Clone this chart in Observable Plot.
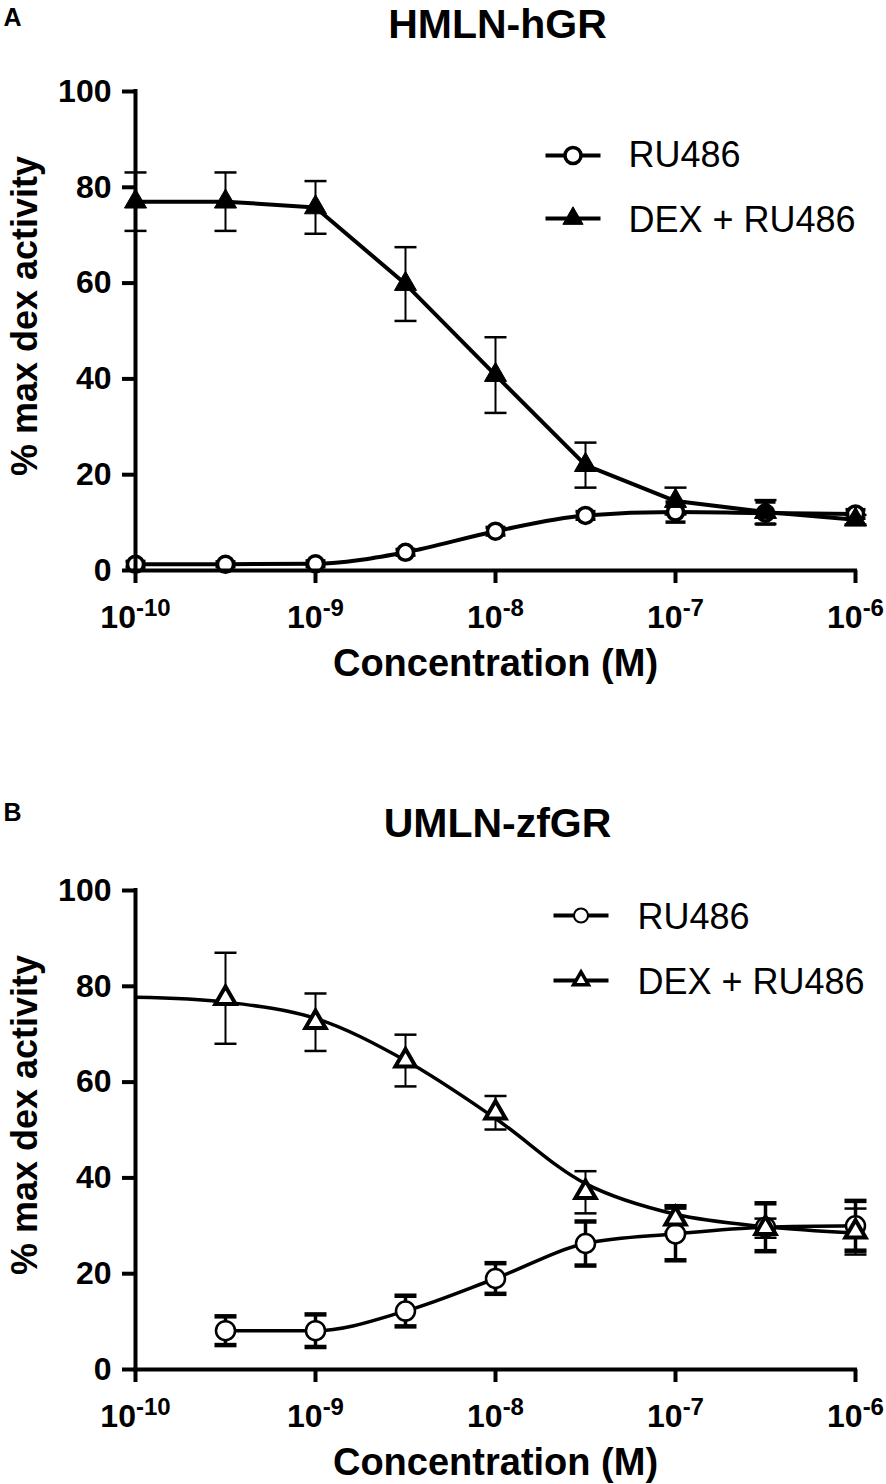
<!DOCTYPE html>
<html>
<head>
<meta charset="utf-8">
<script src="https://cdn.jsdelivr.net/npm/d3@7"></script>
<script src="https://cdn.jsdelivr.net/npm/@observablehq/plot@0.6"></script>
<style>
  html, body { margin: 0; padding: 0; background: #fff; }
  #chart svg { display: block; }
</style>
</head>
<body>
<div id="chart"></div>
<script>
// ---------- data ----------
const conc = [1e-10, 3.162e-10, 1e-9, 3.162e-9, 1e-8, 3.162e-8, 1e-7, 3.162e-7, 1e-6];
const xTicks = [1e-10, 1e-9, 1e-8, 1e-7, 1e-6];
const xTickExps = ["-10", "-9", "-8", "-7", "-6"];
const yTicks = [0, 20, 40, 60, 80, 100];

// Panel A: HMLN-hGR
const dexA    = [77.0, 77.0, 75.8, 59.8, 40.8, 22.0, 14.5, 12.2, 10.6];
const dexAErr = [6.1, 6.1, 5.5, 7.7, 7.9, 4.7, 2.8, 2.5, 1.0];
const ruA     = [1.3, 1.3, 1.4, 3.8, 8.2, 11.5, 12.2, 12.0, 11.8];
const ruAErr  = [0.6, 0.5, 0.6, 0.6, 0.8, 0.8, 2.1, 2.3, 0.9];

// Panel B: UMLN-zfGR (measured from 10^-9.5)
const concB   = [3.162e-10, 1e-9, 3.162e-9, 1e-8, 3.162e-8, 1e-7, 3.162e-7, 1e-6];
const dexB    = [77.5, 72.5, 64.5, 53.6, 37.0, 31.5, 29.5, 28.8];
const dexBErr = [9.5, 6.0, 5.4, 3.5, 4.4, 2.8, 2.0, 4.8];
const ruB     = [8.1, 8.1, 12.2, 19.0, 26.3, 28.3, 29.7, 30.0];
const ruBErr  = [3.0, 3.4, 3.2, 3.2, 4.6, 5.5, 5.0, 5.2];
// fitted DEX curve in panel B
const dexBFit = [77.7, 76.7, 73.3, 64.5, 52.4, 38.8, 32.4, 29.8, 28.5];

// ---------- helpers ----------
const FONT = "'Liberation Sans', Arial, Helvetica, sans-serif";
const hline = {
  draw(ctx, size) {
    const w = Math.sqrt(size / Math.PI);
    ctx.moveTo(-w, 0);
    ctx.lineTo(w, 0);
  }
};

function errorMarks(rows, key, errKey, o) {
  return [
    Plot.ruleX(rows, {x: "c", y1: d => d[key] - d[errKey], y2: d => d[key] + d[errKey], stroke: "black", strokeWidth: o.sw}),
    Plot.dot(rows, {x: "c", y: d => d[key] - d[errKey], symbol: hline, r: o.cap, stroke: "black", strokeWidth: o.capW}),
    Plot.dot(rows, {x: "c", y: d => d[key] + d[errKey], symbol: hline, r: o.cap, stroke: "black", strokeWidth: o.capW})
  ];
}

function panel({height, letter, letterDy, title, titleDy, marks, legend}) {
  const svg = Plot.plot({
    width: 886,
    height,
    marginLeft: 135,
    marginRight: 31,
    marginTop: 91,
    marginBottom: height - 570,
    style: {fontFamily: FONT, background: "white", color: "black", overflow: "visible"},
    x: {type: "log", domain: [1e-10, 1e-6]},
    y: {domain: [0, 100]},
    marks: [
      ...marks,
      // axes
      Plot.ruleY([0], {stroke: "black", strokeWidth: 4, strokeLinecap: "square"}),
      Plot.ruleX([1e-10], {stroke: "black", strokeWidth: 4, strokeLinecap: "square"}),
      Plot.axisY({ticks: yTicks, tickSize: 13, tickPadding: 11, strokeWidth: 4, label: null,
        fontSize: 32, fontWeight: "bold", fontFamily: FONT, fill: "black"}),
      Plot.axisX({ticks: xTicks, tickSize: 13, tickPadding: 22, strokeWidth: 4, label: null,
        tickFormat: d => { const i = xTicks.indexOf(d); return i >= 0 ? xTickExps[i] : String(Math.round(Math.log10(d))); },
        fontSize: 32, fontWeight: "bold", fontFamily: FONT, fill: "black"}),
      // axis titles
      Plot.text(["Concentration (M)"], {text: d => d, frameAnchor: "bottom", dy: 105, lineAnchor: "bottom",
        fontSize: 38, fontWeight: "bold", fontFamily: FONT, fill: "black"}),
      Plot.text(["% max dex activity"], {text: d => d, frameAnchor: "left", dx: -99, dy: -15, rotate: -90,
        lineAnchor: "bottom", textAnchor: "middle", fontSize: 36, fontWeight: "bold", fontFamily: FONT, fill: "black"}),
      // panel title & letter
      Plot.text([title], {text: d => d, frameAnchor: "top", dx: 2, dy: titleDy, lineAnchor: "bottom",
        fontSize: 41, fontWeight: "bold", fontFamily: FONT, fill: "black"}),
      Plot.text([letter], {text: d => d, frameAnchor: "top-left", dx: -132, dy: letterDy, lineAnchor: "bottom",
        textAnchor: "start", fontSize: 25, fontWeight: "bold", fontFamily: FONT, fill: "black"}),
      ...legend
    ]
  });
  // superscript exponents on x tick labels
  svg.querySelectorAll('g[aria-label="x-axis tick label"] text').forEach(t => {
    const exp = t.textContent;
    t.textContent = "";
    const ns = "http://www.w3.org/2000/svg";
    const base = document.createElementNS(ns, "tspan");
    base.textContent = "10";
    const sup = document.createElementNS(ns, "tspan");
    sup.textContent = exp;
    sup.setAttribute("font-size", "24");
    sup.setAttribute("dy", "-12");
    t.appendChild(base);
    t.appendChild(sup);
  });
  return svg;
}

function legendMarks({lx, ly1, ly2, tx, ty1, ty2, circle, tri, lineW, fs}) {
  return [
    Plot.dot([0], {frameAnchor: "top-left", dx: lx, dy: ly1, symbol: hline, r: 27.5, stroke: "black", strokeWidth: lineW}),
    Plot.dot([0], {frameAnchor: "top-left", dx: lx, dy: ly1, r: circle.r, fill: "white", stroke: "black", strokeWidth: circle.sw}),
    Plot.dot([0], {frameAnchor: "top-left", dx: lx, dy: ly2, symbol: hline, r: 27.5, stroke: "black", strokeWidth: lineW}),
    Plot.dot([0], {frameAnchor: "top-left", dx: lx, dy: ly2, symbol: "triangle", r: tri.r, fill: tri.fill, stroke: "black", strokeWidth: tri.sw}),
    Plot.text(["RU486"], {text: d => d, frameAnchor: "top-left", dx: tx, dy: ty1, lineAnchor: "bottom", textAnchor: "start",
      fontSize: fs, fontFamily: FONT, fill: "black"}),
    Plot.text(["DEX + RU486"], {text: d => d, frameAnchor: "top-left", dx: tx, dy: ty2, lineAnchor: "bottom", textAnchor: "start",
      fontSize: fs, fontFamily: FONT, fill: "black"})
  ];
}

// ---------- panel A ----------
const rowsA = conc.map((c, i) => ({c, dex: dexA[i], dexErr: dexAErr[i], ru: ruA[i], ruErr: ruAErr[i]}));
const svgA = panel({
  height: 799,
  letter: "A",
  letterDy: -66,
  title: "HMLN-hGR",
  titleDy: -54,
  marks: [
    Plot.line(rowsA, {x: "c", y: "dex", stroke: "black", strokeWidth: 4}),
    Plot.line(rowsA, {x: "c", y: "ru", stroke: "black", strokeWidth: 4, curve: "monotone-x"}),
    ...errorMarks(rowsA, "dex", "dexErr", {sw: 2, cap: 11, capW: 2.5}),
    ...errorMarks(rowsA, "ru", "ruErr", {sw: 3.5, cap: 10, capW: 3.5}),
    Plot.dot(rowsA, {x: "c", y: "ru", r: 8, fill: "white", stroke: "black", strokeWidth: 3.5}),
    Plot.dot(rowsA, {x: "c", y: "dex", symbol: "triangle", r: 8.2, fill: "black", stroke: "black", strokeWidth: 1})
  ],
  legend: legendMarks({lx: 437.5, ly1: 64, ly2: 127, tx: 493, ty1: 75, ty2: 140,
    circle: {r: 8, sw: 3.5}, tri: {r: 7.5, fill: "black", sw: 1}, lineW: 4, fs: 36})
});

// ---------- panel B ----------
const rowsB = concB.map((c, i) => ({c, dex: dexB[i], dexErr: dexBErr[i], ru: ruB[i], ruErr: ruBErr[i]}));
const fitB = conc.map((c, i) => ({c, v: dexBFit[i]}));
const svgB = panel({
  height: 685,
  letter: "B",
  letterDy: -70,
  title: "UMLN-zfGR",
  titleDy: -54,
  marks: [
    Plot.line(fitB, {x: "c", y: "v", stroke: "black", strokeWidth: 3.5, curve: "catmull-rom"}),
    Plot.line(rowsB, {x: "c", y: "ru", stroke: "black", strokeWidth: 3.5, curve: "monotone-x"}),
    ...errorMarks(rowsB, "dex", "dexErr", {sw: 2, cap: 11, capW: 2.5}),
    ...errorMarks(rowsB, "ru", "ruErr", {sw: 3.5, cap: 11, capW: 4.5}),
    Plot.dot(rowsB, {x: "c", y: "ru", r: 9.5, fill: "white", stroke: "black", strokeWidth: 2.5}),
    Plot.dot(rowsB, {x: "c", y: "dex", symbol: "triangle", r: 7.5, fill: "white", stroke: "black", strokeWidth: 4})
  ],
  legend: legendMarks({lx: 445.5, ly1: 25, ly2: 90, tx: 502, ty1: 38, ty2: 103,
    circle: {r: 7, sw: 2}, tri: {r: 5.5, fill: "white", sw: 3.5}, lineW: 4, fs: 36})
});

const chart = document.getElementById("chart");
chart.appendChild(svgA);
chart.appendChild(svgB);
</script>
</body>
</html>
